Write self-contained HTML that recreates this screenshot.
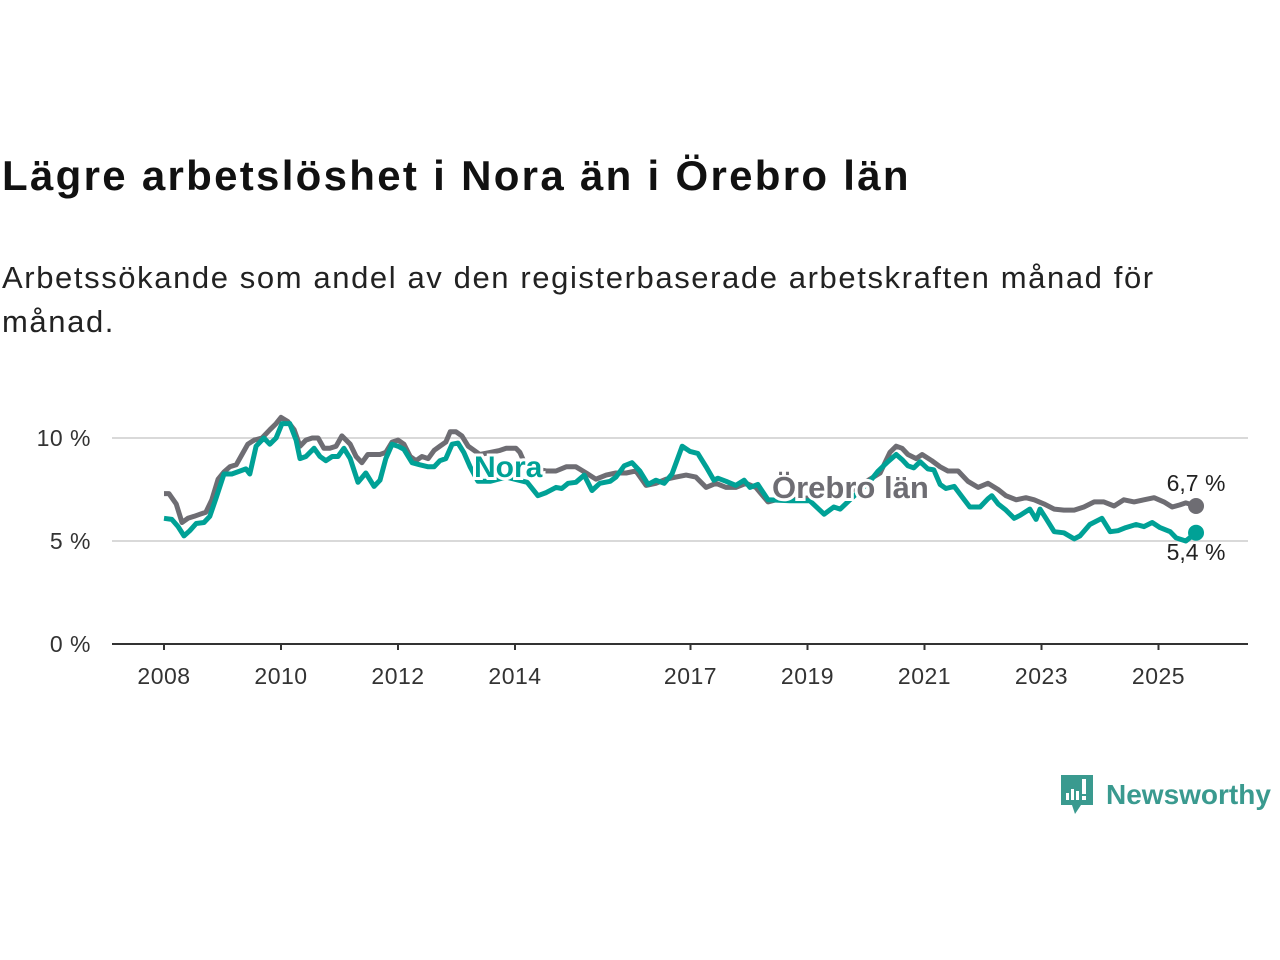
<!DOCTYPE html>
<html><head><meta charset="utf-8">
<style>
body{margin:0;width:1280px;height:960px;background:#fff;font-family:"Liberation Sans",sans-serif;overflow:hidden;position:relative}
#title{position:absolute;left:2px;top:152px;font-size:42px;letter-spacing:2.3px;font-weight:bold;color:#111;margin:0;white-space:nowrap}
#sub{position:absolute;left:2px;top:256px;font-size:31px;letter-spacing:1.6px;color:#222;line-height:44px;margin:0;white-space:nowrap}
svg{position:absolute;left:0;top:0}
</style></head><body>
<h1 id="title">Lägre arbetslöshet i Nora än i Örebro län</h1>
<p id="sub">Arbetssökande som andel av den registerbaserade arbetskraften månad för<br>månad.</p>
<svg id="chart" width="1280" height="960"></svg>
<div style="position:absolute;left:1059px;top:773px;display:flex;align-items:center">
<svg width="36" height="44" style="position:static"><path d="M2 2h32v30H22l-6 9-3-9H2z" fill="#3a9a8f"/><rect x="7" y="20" width="3" height="7" fill="#fff"/><rect x="12" y="16" width="3" height="11" fill="#fff"/><rect x="17" y="18" width="3" height="9" fill="#fff"/><rect x="23" y="6" width="4" height="15" fill="#fff"/><rect x="23" y="23" width="4" height="4" fill="#fff"/></svg>
<span style="font-size:28px;color:#3a9a8f;margin-left:11px;font-weight:bold">Newsworthy</span>
</div>
<script>
const xTickYears=[2008,2010,2012,2014,2017,2019,2021,2023,2025];
const yTicks=[0,5,10];
const yTickLabels=["0 %","5 %","10 %"];
const oreMonths=[0,1,2.5,3.7,4.9,6.2,7.4,8.6,9.8,11.1,12.3,13.5,14.8,16,17.2,18.5,20.1,21.7,23,24,25.4,26.7,27.9,29.1,30.4,31.6,32.8,34,35.3,36.5,38.2,39.4,40.6,41.8,43,44.3,45.5,46.8,48,49.2,50.5,51.7,52.9,54.2,55.4,56.6,57.8,58.7,59.9,61.1,62.4,64.8,66.9,68.9,70.2,72.2,73,74.3,76.3,78.4,80.4,82.5,84.5,86.6,88.6,90.7,92.7,94.8,96.8,98.9,100.9,103,105,107.1,109.1,111.2,113.2,115.3,117.3,119.4,121.4,123.9,125.5,128.4,132.5,136.6,140.7,144.8,146.9,148.9,150.2,151.4,152.6,154.3,155.5,157.5,159.2,160.8,162.9,164.9,167,169,171.1,172.7,174.8,176.8,178.5,180.5,182.6,184.6,186.7,188.7,190.8,192.8,194.9,196.9,199,201,203.1,205.1,206.8,208.4,209.6,211.7];
const oreValues=[7.3,7.3,6.8,5.9,6.1,6.2,6.3,6.4,7.0,8.0,8.35,8.6,8.7,9.2,9.7,9.9,10.0,10.4,10.7,11.0,10.8,10.4,9.6,9.9,10.0,10.0,9.5,9.5,9.6,10.1,9.7,9.1,8.8,9.2,9.2,9.2,9.3,9.8,9.9,9.7,9.1,8.9,9.1,9.0,9.4,9.6,9.8,10.3,10.3,10.1,9.6,9.2,9.3,9.4,9.5,9.5,9.3,8.6,8.5,8.4,8.4,8.6,8.6,8.3,8.0,8.2,8.3,8.3,8.4,7.7,7.8,8.0,8.1,8.2,8.1,7.6,7.8,7.6,7.6,7.8,7.6,6.9,7.0,7.0,7.1,7.2,7.4,8.0,8.3,9.3,9.6,9.5,9.2,9.0,9.2,8.9,8.6,8.4,8.4,7.9,7.6,7.8,7.5,7.2,7.0,7.1,7.0,6.8,6.55,6.5,6.5,6.65,6.9,6.9,6.7,7.0,6.9,7.0,7.1,6.9,6.65,6.75,6.85,6.7];
const noraMonths=[0,1.6,2.9,4.1,5.3,6.6,8.2,9.4,10.7,12.3,13.9,15.6,16.8,17.6,18.9,20.5,21.7,23,24.2,25.8,27.1,27.9,29.1,30.8,32,33.2,34.5,35.7,36.9,38.2,39.8,41.4,43.1,44.3,45.5,46.8,48,49.2,50.9,52.5,54.2,55.4,56.6,57.8,59.1,60.3,61.5,62.8,64.4,66.9,70.2,74.5,76.7,78.4,80.4,81.6,82.9,84.5,86.2,87.8,89.4,91.5,92.7,94.4,96,97.6,99.3,100.9,102.6,104.2,106.3,107.9,109.5,111.2,112.8,113.6,115.3,117.3,119,120.2,121.8,123.9,128.4,132.5,135.4,137.4,138.7,140.7,144.8,146.5,148.5,150.2,151.4,152.6,153.8,155.1,156.7,157.9,159.2,160.4,162.1,163.7,165.3,167.4,169,169.8,171.1,172.7,174.4,175.6,177.6,178.9,179.7,180.9,182.6,184.6,186.7,187.9,189.9,192.4,194.1,195.7,197.3,199.4,201,202.7,204.3,206.4,207.6,209.6,211.7];
const noraValues=[6.1,6.05,5.7,5.25,5.5,5.85,5.9,6.2,7.1,8.25,8.25,8.4,8.5,8.25,9.6,10.0,9.7,10.0,10.7,10.7,9.9,9.0,9.1,9.5,9.1,8.9,9.1,9.1,9.5,9.0,7.85,8.3,7.65,7.95,9.0,9.7,9.6,9.45,8.8,8.7,8.6,8.6,8.9,9.0,9.7,9.75,9.3,8.6,7.9,7.9,8.1,7.85,7.2,7.35,7.6,7.55,7.8,7.85,8.2,7.45,7.8,7.9,8.1,8.65,8.8,8.4,7.75,7.95,7.8,8.25,9.6,9.35,9.25,8.6,7.95,8.05,7.9,7.7,7.95,7.6,7.75,7.0,6.95,6.95,6.3,6.65,6.55,7.0,7.9,8.4,8.85,9.2,8.95,8.65,8.55,8.85,8.5,8.45,7.75,7.55,7.65,7.15,6.65,6.65,7.05,7.2,6.8,6.5,6.1,6.25,6.55,6.05,6.55,6.1,5.45,5.4,5.1,5.25,5.8,6.1,5.45,5.5,5.65,5.8,5.7,5.9,5.65,5.45,5.15,5.0,5.4];
const endLabels=["6,7 %","5,4 %"];

const NS="http://www.w3.org/2000/svg";
const svg=document.getElementById('chart');
const X0=164,PXY=58.5,Y0=644,PXV=20.6;
const xm=m=>X0+m*PXY/12;
const xy=y=>X0+(y-2008)*PXY;
const yv=v=>Y0-v*PXV;
function mk(t,a){const e=document.createElementNS(NS,t);for(const k in a)e.setAttribute(k,a[k]);svg.appendChild(e);return e;}
yTicks.forEach((t,i)=>{
  if(t>0){const g=mk('line',{x1:112,x2:1248,y1:yv(t),y2:yv(t),stroke:'#d9d9d9','stroke-width':2});
  
  }
  const l=mk('text',{x:91,y:yv(t)+8,'text-anchor':'end','font-size':23,'letter-spacing':0.5,fill:'#333','font-family':'Liberation Sans,sans-serif'});
  l.textContent=yTickLabels[i];
  
  
});
const ax=mk('line',{x1:112,x2:1248,y1:Y0,y2:Y0,stroke:'#333','stroke-width':2});


xTickYears.forEach(y=>{
  const t=mk('line',{x1:xy(y),x2:xy(y),y1:Y0,y2:Y0+6,stroke:'#333','stroke-width':2});
  
  
  const l=mk('text',{x:xy(y),y:Y0+40,'text-anchor':'middle','font-size':23,'letter-spacing':0.5,fill:'#333','font-family':'Liberation Sans,sans-serif'});
  l.textContent=y;
  
  
});
function line(ms,vs,c,name){
  const d=ms.map((m,i)=>(i?'L':'M')+xm(m).toFixed(1)+' '+yv(vs[i]).toFixed(1)).join(' ');
  const p=mk('path',{d:d,fill:'none',stroke:c,'stroke-width':5,'stroke-linejoin':'round'});
  
  
}
line(oreMonths,oreValues,'#6e6d73','line-orebro-lan');
line(noraMonths,noraValues,'#00a196','line-nora');
function lbl(x,y,txt,c,name,fs){
  const t=mk('text',{x:x,y:y,'font-size':fs,'font-weight':'bold',fill:c,stroke:'#fff','stroke-width':6,'paint-order':'stroke','font-family':'Liberation Sans,sans-serif'});
  t.textContent=txt;
  
  
}
lbl(474,477,'Nora','#00a196','series-label-nora',30);
lbl(772,498,'Örebro län','#6e6d73','series-label-orebro',31);
const oi=oreValues.length-1,ni=noraValues.length-1;
const d1=mk('circle',{cx:xm(oreMonths[oi]),cy:yv(oreValues[oi]),r:8,fill:'#6e6d73'});


const d2=mk('circle',{cx:xm(noraMonths[ni]),cy:yv(noraValues[ni]),r:8,fill:'#00a196'});


const e1=mk('text',{x:1196,y:yv(oreValues[oi])-15,'text-anchor':'middle','font-size':23,fill:'#222',stroke:'#fff','stroke-width':4,'paint-order':'stroke','font-family':'Liberation Sans,sans-serif'});
e1.textContent=endLabels[0];


const e2=mk('text',{x:1196,y:yv(noraValues[ni])+27,'text-anchor':'middle','font-size':23,fill:'#222',stroke:'#fff','stroke-width':4,'paint-order':'stroke','font-family':'Liberation Sans,sans-serif'});
e2.textContent=endLabels[1];


</script>
</body></html>
